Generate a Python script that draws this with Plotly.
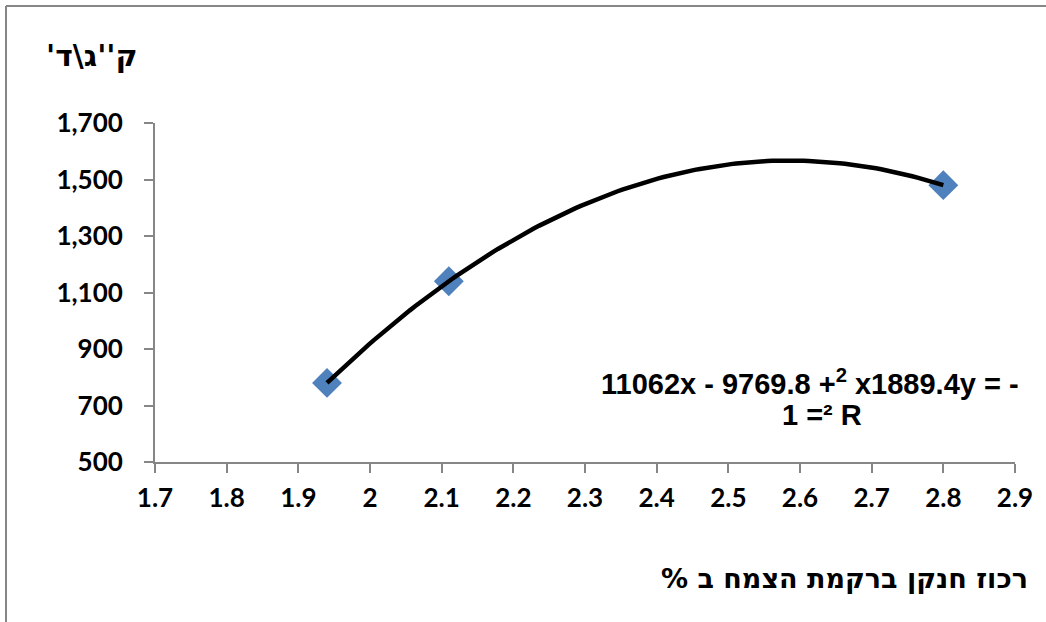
import numpy as np
import plotly.graph_objects as go

# Data
nitrogen_pct = [1.94, 2.11, 2.80]
yield_kg = [780, 1140, 1480]

x_ticks = [1.7, 1.8, 1.9, 2.0, 2.1, 2.2, 2.3, 2.4, 2.5, 2.6, 2.7, 2.8, 2.9]
x_tick_labels = ["1.7", "1.8", "1.9", "2", "2.1", "2.2", "2.3", "2.4", "2.5", "2.6", "2.7", "2.8", "2.9"]
y_ticks = [500, 700, 900, 1100, 1300, 1500, 1700]
y_tick_labels = ["500", "700", "900", "1,100", "1,300", "1,500", "1,700"]

x_title = "\u200fרכוז חנקן ברקמת הצמח ב %\u200f"
y_title = "\u200fק''ג\\ד'\u200f"
eq_line1 = "11062x - 9769.8 +<sup>2</sup> x1889.4y = -"
eq_line2 = "1 =² R"

# Polynomial (order 2) trendline fitted to the data
coef = np.polyfit(nitrogen_pct, yield_kg, 2)
xt = np.linspace(min(nitrogen_pct), max(nitrogen_pct), 120)
yt = np.polyval(coef, xt)

fig = go.Figure()
fig.add_trace(go.Scatter(
    x=nitrogen_pct, y=yield_kg, mode="markers",
    marker=dict(symbol="diamond", size=23, color="#4F81BD", line=dict(width=0)),
    showlegend=False, hoverinfo="skip"))
fig.add_trace(go.Scatter(
    x=xt, y=yt, mode="lines", line=dict(color="black", width=4.5),
    showlegend=False, hoverinfo="skip"))

tickfont = dict(family="Lato, Open Sans, sans-serif", size=26, color="black", weight="bold")
L, T, W, H = 155, 123, 860, 339


def px(xp):
    return (xp - L) / W


def py(yp):
    return (T + H - yp) / H


eqfont = dict(family="Liberation Sans, Arial", size=29, color="black", weight="bold")

fig.update_layout(
    width=1046, height=622,
    margin=dict(l=155, r=31, t=123, b=160),
    paper_bgcolor="white", plot_bgcolor="white",
    xaxis=dict(range=[1.7, 2.9], tickvals=x_ticks, ticktext=x_tick_labels,
               showgrid=False, zeroline=False, showline=True, linecolor="#868686", linewidth=2,
               ticks="outside", ticklen=9, tickwidth=2, tickcolor="#868686",
               tickfont=tickfont, ticklabelstandoff=3),
    yaxis=dict(range=[500, 1700], tickvals=y_ticks, ticktext=y_tick_labels,
               showgrid=False, zeroline=False, showline=True, linecolor="#868686", linewidth=2,
               ticks="outside", ticklen=9, tickwidth=2, tickcolor="#868686",
               tickfont=tickfont, ticklabelstandoff=16),
    annotations=[
        dict(text=eq_line1, xref="paper", yref="paper",
             x=px(810), y=py(382), xanchor="center", yanchor="middle",
             showarrow=False, font=eqfont),
        dict(text=eq_line2, xref="paper", yref="paper",
             x=px(822), y=py(415), xanchor="center", yanchor="middle",
             showarrow=False, font=eqfont),
        dict(text=x_title, xref="paper", yref="paper",
             x=px(1030), y=py(578), xanchor="right", yanchor="middle",
             showarrow=False,
             font=dict(family="DejaVu Sans", size=27, color="black", weight="bold")),
        dict(text=y_title, xref="paper", yref="paper",
             x=px(44), y=py(55), xanchor="left", yanchor="middle",
             showarrow=False,
             font=dict(family="DejaVu Sans", size=30, color="black", weight="bold")),
    ],
    shapes=[
        dict(type="line", xref="paper", yref="paper",
             x0=px(6), x1=px(1060), y0=py(6), y1=py(6),
             line=dict(color="#868686", width=2)),
        dict(type="line", xref="paper", yref="paper",
             x0=px(6), x1=px(6), y0=py(6), y1=py(640),
             line=dict(color="#868686", width=2)),
    ],
)

fig.write_html("out.html", config={"displayModeBar": False},
               post_script="document.body.style.margin='0';document.body.style.overflow='hidden';")
